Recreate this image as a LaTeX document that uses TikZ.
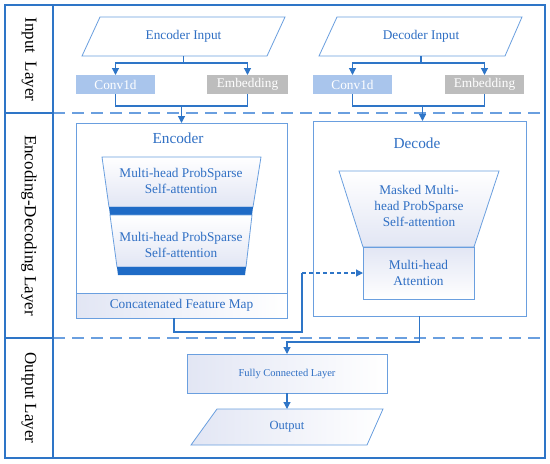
\documentclass[tikz,border=0pt]{standalone}
\usepackage{fontspec}
\setmainfont{Liberation Serif}
\usetikzlibrary{arrows.meta,calc}
\definecolor{frameblue}{HTML}{2E75C7}
\definecolor{lineblue}{HTML}{6A9FDF}
\definecolor{txtblue}{HTML}{2F6FC4}
\definecolor{barblue}{HTML}{1F6BC6}
\definecolor{convfill}{HTML}{A9C5EC}
\definecolor{embfill}{HTML}{BDBDBD}
\definecolor{lav}{HTML}{E2E6F4}
\tikzset{
  frame/.style={draw=frameblue, line width=1.4pt},
  sepline/.style={draw=lineblue, line width=1.1pt, dash pattern=on 12pt off 7pt},
  boxline/.style={draw=lineblue, line width=0.8pt},
  txt/.style={text=txtblue, font=\fontsize{13.3}{15.8}\selectfont, align=center, inner sep=0pt},
  ttl/.style={text=txtblue, font=\fontsize{15.3}{18}\selectfont, inner sep=0pt},
  lbl/.style={text=black, font=\fontsize{17}{20}\selectfont, rotate=-90, inner sep=0pt},
  anchorbox/.style={inner sep=0pt, outer sep=0pt},
  smallbox/.style={minimum height=19pt, inner sep=0pt, outer sep=0pt, text=white, font=\fontsize{13.3}{15}\selectfont},
  conn/.style={draw=frameblue, line width=1.2pt},
  arr/.style={conn, -{Triangle[length=7pt,width=7pt]}},
  dasharr/.style={conn, dashed, dash pattern=on 4pt off 3pt, -{Triangle[length=7pt,width=7pt]}},
}
\begin{document}
\begin{tikzpicture}[x=1pt,y=-1pt]
\useasboundingbox (0,0) rectangle (550,464);
\fill[white] (0,0) rectangle (550,464);

% dashed separators
\draw[sepline] (53,113) -- (545,113);
\draw[sepline] (53,338) -- (545,338);

% ---------- Input layer ----------
\draw[boxline] (100,17) -- (285,17) -- (267,56) -- (82,56) -- cycle;
\node[anchorbox, minimum width=150pt, minimum height=39pt] (encin) at (183.5,36.5) {};
\node[txt] at (encin.center) {Encoder Input};

\draw[boxline] (337,17) -- (522,17) -- (505,56) -- (319,56) -- cycle;
\node[anchorbox, minimum width=150pt, minimum height=39pt] (decin) at (421,36.5) {};
\node[txt] at (decin.center) {Decoder Input};

\node[smallbox, fill=convfill, minimum width=79pt] (conv1) at (115.5,84.5) {Conv1d};
\node[smallbox, fill=embfill, minimum width=81pt] (emb1) at (247.5,84.5) {Embedding};
\node[smallbox, fill=convfill, minimum width=79pt] (conv2) at (352.5,84.5) {Conv1d};
\node[smallbox, fill=embfill, minimum width=79pt] (emb2) at (484.5,84.5) {Embedding};

% ---------- Encoder ----------
\node[boxline, anchorbox, minimum width=211pt, minimum height=195pt] (enc) at (181.5,220.5) {};
\shade[left color=lav, right color=white] (76,293) rectangle (287,318);
\draw[boxline] (76,123) rectangle (287,318);
\draw[boxline] (76,293) -- (287,293);
\node[anchorbox, minimum width=211pt, minimum height=25pt] (concat) at (181.5,305.5) {};
\node[txt] at (concat.center) {Concatenated Feature Map};
\node[ttl] (enctitle) at (178,138) {Encoder};

\shade[top color=white, bottom color=lav] (102,157) -- (261,157) -- (253,207) -- (109,207) -- cycle;
\draw[boxline] (102,157) -- (261,157) -- (253,207) -- (109,207) -- cycle;
\fill[barblue] (109,207) -- (253,207) -- (252,215) -- (110,215) -- cycle;
\shade[top color=white, bottom color=lav] (110,215) -- (252,215) -- (246,267) -- (117,267) -- cycle;
\draw[boxline] (110,215) -- (252,215) -- (246,267) -- (117,267) -- cycle;
\fill[barblue] (117,267) -- (246,267) -- (245,275) -- (118,275) -- cycle;
\node[txt] (att1) at (181,181) {Multi-head ProbSparse\\Self-attention};
\node[txt] (att2) at (181,245) {Multi-head ProbSparse\\Self-attention};

% ---------- Decoder ----------
\node[boxline, anchorbox, minimum width=213pt, minimum height=195pt] (dec) at (419.5,218.5) {};
\node[ttl] (dectitle) at (417,143) {Decode};
\shade[top color=white, bottom color=lav] (339,171) -- (499,171) -- (474,247) -- (363,247) -- cycle;
\draw[boxline] (339,171) -- (499,171) -- (474,247) -- (363,247) -- cycle;
\node[txt] (mask) at (419,206) {Masked Multi-\\head ProbSparse\\Self-attention};
\shade[left color=lav, right color=white, shading angle=0] (363,247) rectangle (474,299);
\node[boxline, anchorbox, minimum width=111pt, minimum height=52pt] (mha) at (418.5,273) {};
\node[txt] at (mha.center) {Multi-head\\Attention};

% ---------- Output ----------
\shade[left color=lav, right color=white] (187,354) rectangle (387,393);
\node[boxline, anchorbox, minimum width=200pt, minimum height=39pt] (fc) at (287,373.5) {};
\node[txt, font=\fontsize{10.5}{12}\selectfont] at (fc.center) {Fully Connected Layer};

\shade[left color=lav, right color=white] (217,409) -- (383,409) -- (367,445) -- (191,445) -- cycle;
\draw[boxline] (217,409) -- (383,409) -- (367,445) -- (191,445) -- cycle;
\node[anchorbox, minimum width=140pt, minimum height=36pt] (out) at (287,427) {};
\node[txt, font=\fontsize{12.5}{15}\selectfont] at (out.center) {Output};

% ---------- connectors ----------
\draw[arr] (encin.south) -- ++(0,7) -| (conv1.north);
\draw[arr] (encin.south) -- ++(0,7) -| (emb1.north);
\draw[arr] (decin.south) -- ++(0,7) -| (conv2.north);
\draw[arr] (decin.south) -- ++(0,7) -| (emb2.north);

\draw[conn] (conv1.south) -- ++(0,12) -| (emb1.south);
\coordinate (j1) at ($(conv1.south)!0.5!(emb1.south)+(0,12)$);
\draw[arr] (j1) -- (j1 |- enc.north);

\draw[conn] (conv2.south) -- ++(0,12) -| (emb2.south);
\coordinate (j2) at ($(conv2.south)!0.5!(emb2.south)+(4,12)$);
\draw[arr] (j2) -- (j2 |- dec.north);

\coordinate (c1) at (302,332);
\coordinate (c2) at (302,273);
\draw[conn] ([xshift=-7.5pt]concat.south) |- (c1) -- (c2);
\draw[dasharr] (c2) -- (mha.west);

\draw[arr] (dec.south) -- ++(0,26) -| (fc.north);
\draw[arr] (fc.south) -- (out.north);

% ---------- frame & labels ----------
\draw[frame] (5,5) rectangle (545,458);
\draw[frame] (53,5) -- (53,458);
\draw[frame] (5,113) -- (53,113);
\draw[frame] (5,338) -- (53,338);
\node[lbl] (l1) at (29,59.5) {Input\hspace{4.5pt} Layer};
\node[lbl] (l2) at (29,225.5) {Encoding-Decoding Layer};
\node[lbl] (l3) at (29,398) {Output Layer};
\end{tikzpicture}
\end{document}
